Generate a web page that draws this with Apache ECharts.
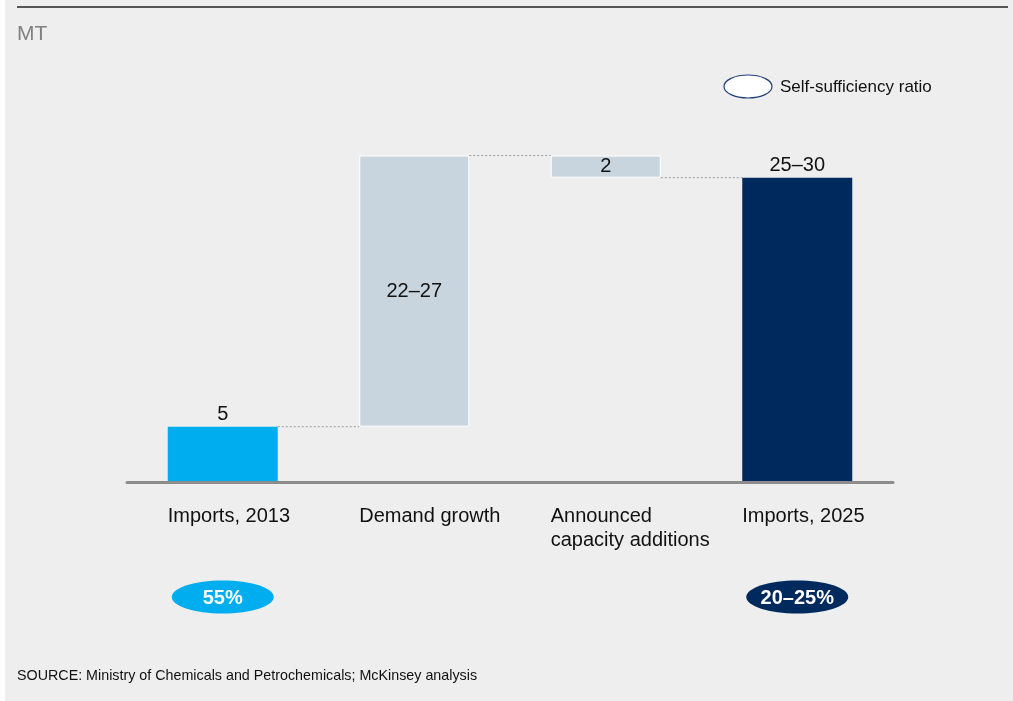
<!DOCTYPE html>
<html>
<head>
<meta charset="utf-8">
<script src="https://cdn.jsdelivr.net/npm/echarts@6/dist/echarts.min.js"></script>
<style>
html,body{margin:0;padding:0;background:#ffffff;}
#chart{width:1013px;height:701px;}
</style>
</head>
<body>
<div id="chart"></div>
<script>
// ---- data ----
const categories = ['Imports, 2013', 'Demand growth', 'Announced\ncapacity additions', 'Imports, 2025'];
const baseValues = [0, 5, 27.5, 0];
const barValues = [5, 24.5, 2, 27.5];
const valueLabels = ['5', '22–27', '2', '25–30'];
const connectorLevels = [5, 29.5, 27.5];
const ratioLabels = ['55%', '', '', '20–25%'];
const unitLabel = 'MT';
const legendLabel = 'Self-sufficiency ratio';
const sourceText = 'SOURCE: Ministry of Chemicals and Petrochemicals; McKinsey analysis';

// ---- styles ----
const FONT = "'Liberation Sans', Arial, sans-serif";
const BAR_W = 110;
const barColors = ['#00aeef', '#c9d5de', '#c9d5de', '#002a5e'];
const labelPos = ['top', 'inside', 'inside', 'top'];
const ratioColors = ['#00aeef', null, null, '#002a5e'];

const chart = echarts.init(document.getElementById('chart'), null, {renderer: 'canvas'});

const option = {
  backgroundColor: '#edeeed',
  animation: false,
  grid: {left: 127, right: 120, top: 150, bottom: 219},
  xAxis: {
    type: 'category',
    data: categories,
    axisTick: {show: false},
    axisLabel: {show: false},
    axisLine: {lineStyle: {color: '#8c8c8c', width: 3}},
    z: 10
  },
  yAxis: {
    type: 'value', min: 0, max: 30, show: false,
    splitLine: {show: false}
  },
  graphic: [
    {type: 'rect', left: 0, top: 0, shape: {x: 0, y: 0, width: 5, height: 701}, style: {fill: '#ffffff'}, silent: true},
    {type: 'line', shape: {x1: 17, y1: 7, x2: 1008, y2: 7}, style: {stroke: '#555555', lineWidth: 2}, silent: true},
    {type: 'text', left: 17, top: 24, style: {text: unitLabel, font: '21px ' + FONT, fill: '#808080'}},
    {type: 'ellipse', shape: {cx: 748, cy: 86.5, rx: 24, ry: 11.5}, style: {fill: '#ffffff', stroke: '#1f3f7a', lineWidth: 1.2}},
    {type: 'text', left: 780, top: 79, style: {text: legendLabel, font: '17px ' + FONT, fill: '#111111'}},
    {type: 'text', left: 17, top: 669, style: {text: sourceText, font: '14.3px ' + FONT, fill: '#111111'}}
  ],
  series: [
    {
      type: 'bar', stack: 'w', barWidth: BAR_W, silent: true,
      itemStyle: {color: 'transparent'},
      data: baseValues
    },
    {
      type: 'bar', stack: 'w', barWidth: BAR_W, silent: true,
      data: barValues.map((v, i) => ({
        value: v,
        itemStyle: {color: barColors[i], borderColor: '#ffffff', borderWidth: i === 1 || i === 2 ? 1 : 0},
        label: {
          show: true, position: labelPos[i], distance: 2,
          formatter: valueLabels[i],
          color: '#111111', fontSize: 20, fontFamily: FONT
        }
      }))
    },
    {
      type: 'custom', silent: true, clip: false,
      data: connectorLevels.map((v, i) => [i, v]),
      encode: {x: 0, y: 1},
      renderItem: function (params, api) {
        const i = api.value(0), v = api.value(1);
        const p1 = api.coord([i, v]);
        const p2 = api.coord([i + 1, v]);
        return {
          type: 'line',
          shape: {x1: p1[0] + BAR_W / 2, y1: p1[1], x2: p2[0] - BAR_W / 2, y2: p2[1]},
          style: {stroke: '#9a9a9a', lineWidth: 1, lineDash: [2, 2]}
        };
      }
    },
    {
      type: 'custom', silent: true, clip: false,
      data: categories.map((c, i) => [i, 0]),
      encode: {x: 0, y: 1},
      renderItem: function (params, api) {
        const i = params.dataIndex;
        const p = api.coord([api.value(0), 0]);
        return {
          type: 'text',
          x: p[0] - BAR_W / 2, y: p[1] + 22,
          style: {
            text: categories[i], font: '20px ' + FONT, fill: '#111111',
            textAlign: 'left', textVerticalAlign: 'top', lineHeight: 24
          }
        };
      }
    },
    {
      type: 'custom', silent: true, clip: false,
      data: ratioLabels.map((t, i) => [i, 0]),
      encode: {x: 0, y: 1},
      renderItem: function (params, api) {
        const i = params.dataIndex;
        if (!ratioLabels[i]) return null;
        const p = api.coord([api.value(0), 0]);
        const cy = p[1] + 115;
        return {
          type: 'group',
          children: [
            {type: 'ellipse', shape: {cx: p[0], cy: cy, rx: 51, ry: 16.5}, style: {fill: ratioColors[i]}},
            {type: 'text', x: p[0], y: cy + 1, style: {
              text: ratioLabels[i], font: 'bold 20px ' + FONT, fill: '#ffffff',
              textAlign: 'center', textVerticalAlign: 'middle'}}
          ]
        };
      }
    }
  ]
};
chart.setOption(option);
</script>
</body>
</html>
